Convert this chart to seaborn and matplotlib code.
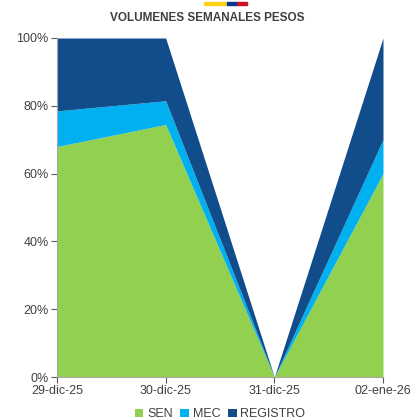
import numpy as np
import pandas as pd
import matplotlib
matplotlib.use("Agg")
import matplotlib.pyplot as plt
import seaborn as sns
from matplotlib.patches import Rectangle

# Data
fechas = ["29-dic-25", "30-dic-25", "31-dic-25", "02-ene-26"]
sen = [68.0, 74.5, 0.0, 60.0]
mec = [10.5, 7.0, 0.0, 10.0]
registro = [21.5, 18.5, 0.0, 30.0]
series = ["SEN", "MEC", "REGISTRO"]
colores = ["#92D050", "#00B0F0", "#114D8A"]

sns.set_theme(style="white")
plt.rcParams["font.family"] = ["Liberation Sans", "DejaVu Sans"]

df = pd.DataFrame({"SEN": sen, "MEC": mec, "REGISTRO": registro}, index=fechas)

fig = plt.figure(figsize=(4.14, 4.2), dpi=100)
ax = fig.add_axes([57 / 414, 43 / 420, (383 - 57) / 414, (377 - 38) / 420])

x = np.arange(len(fechas))
ax.stackplot(x, df["SEN"], df["MEC"], df["REGISTRO"], colors=colores,
             labels=series, linewidth=0)

ax.set_xlim(0, len(fechas) - 1)
ax.set_ylim(0, 100)
ax.set_xticks(x)
ax.set_xticklabels(fechas)
ax.set_yticks(np.arange(0, 101, 20))
ax.set_yticklabels([f"{v}%" for v in range(0, 101, 20)])
ax.tick_params(axis="both", labelsize=9, colors="#595959", length=4, width=0.8,
               bottom=True, left=True, pad=2)
for lbl in ax.get_xticklabels() + ax.get_yticklabels():
    lbl.set_color("#404040")

sns.despine(ax=ax)
for s in ["left", "bottom"]:
    ax.spines[s].set_color("#A6A6A6")
    ax.spines[s].set_linewidth(0.8)

fig.text(0.5, 0.958, "VOLUMENES SEMANALES PESOS", ha="center", va="center",
         fontsize=8.5, fontweight="bold", color="#404040")

# flag bar above the title
fig.patches.append(Rectangle((204 / 414, 415 / 420), 23 / 414, 3 / 420,
                             transform=fig.transFigure, color="#FCD116"))
fig.patches.append(Rectangle((227 / 414, 415 / 420), 10 / 414, 3 / 420,
                             transform=fig.transFigure, color="#003893"))
fig.patches.append(Rectangle((237 / 414, 415 / 420), 10 / 414, 3 / 420,
                             transform=fig.transFigure, color="#CE1126"))

ax.legend(loc="center", bbox_to_anchor=(0.5, -0.11), ncol=3, frameon=False,
          fontsize=9, handlelength=0.7, handleheight=0.7, handletextpad=0.3,
          columnspacing=0.6, labelcolor="#404040")

fig.savefig("out.png", dpi=100)
